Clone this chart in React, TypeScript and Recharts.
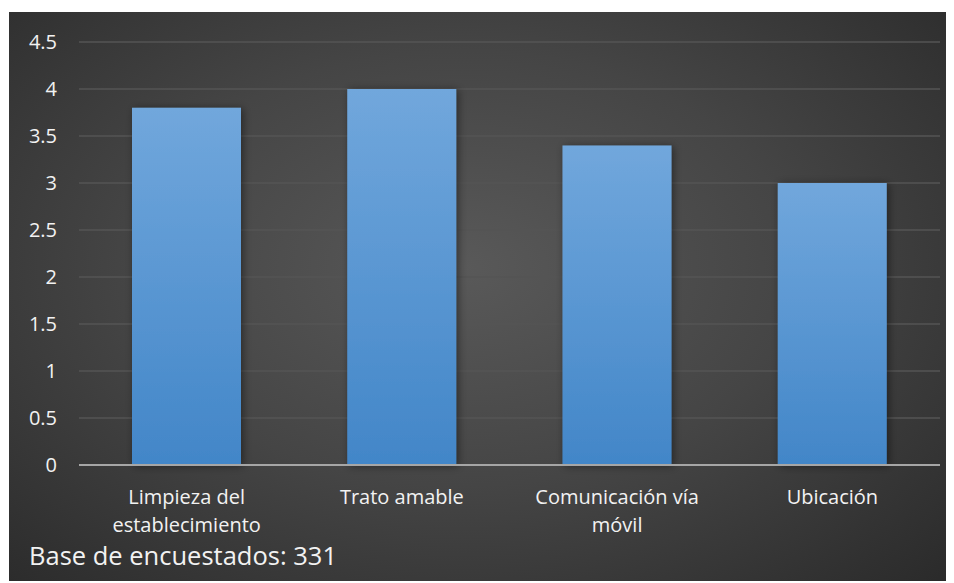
import React from "react";
import { BarChart, Bar, XAxis, YAxis, CartesianGrid } from "recharts";

const categories = [
  "Limpieza del\nestablecimiento",
  "Trato amable",
  "Comunicación vía\nmóvil",
  "Ubicación",
];
const values = [3.8, 4.0, 3.4, 3.0];
const yTicks = [0, 0.5, 1, 1.5, 2, 2.5, 3, 3.5, 4, 4.5];
const footnote = "Base de encuestados: 331";

const data = categories.map((c, i) => ({ name: c, value: values[i] }));

const FONT = "'Open Sans', sans-serif";

const XTick = (props: any) => {
  const { x, y, payload } = props;
  const lines = String(payload.value).split("\n");
  return (
    <g transform={`translate(${x},${y})`}>
      {lines.map((ln: string, i: number) => (
        <text
          key={i}
          x={0}
          y={i * 28}
          dy={31}
          textAnchor="middle"
          fill="#F2F2F2"
          fontSize={20}
          fontFamily={FONT}
        >
          {ln}
        </text>
      ))}
    </g>
  );
};

export default function App() {
  return (
    <div
      style={{
        marginTop: 4,
        marginLeft: 1,
        width: 945,
        height: 569,
        position: "relative",
        background:
          "radial-gradient(ellipse 78% 85% at 48% 45%, #595959 0%, #454545 45%, #262626 100%)",
      }}
    >
      <BarChart
        width={945}
        height={569}
        data={data}
        margin={{ top: 30, right: 14, bottom: 0, left: 0 }}
      >
        <defs>
          <linearGradient id="barGrad" x1="0" y1="0" x2="0" y2="1">
            <stop offset="0%" stopColor="#71A7DC" />
            <stop offset="100%" stopColor="#4286C8" />
          </linearGradient>
          <filter id="shadow" x="-20%" y="-10%" width="140%" height="120%">
            <feDropShadow dx="2" dy="1" stdDeviation="4" floodColor="#000" floodOpacity="0.45" />
          </filter>
        </defs>
        <CartesianGrid
          vertical={false}
          stroke="#555555"
          strokeWidth={1.5}
        />
        <YAxis
          domain={[0, 4.5]}
          ticks={yTicks}
          axisLine={false}
          tickLine={false}
          tickSize={0}
          tickMargin={22}
          width={70}
          tick={{ fill: "#F2F2F2", fontSize: 20, fontFamily: FONT }}
          interval={0}
        />
        <XAxis
          dataKey="name"
          tick={<XTick />}
          tickLine={false}
          axisLine={{ stroke: "#A6A6A6", strokeWidth: 2 }}
          interval={0}
          height={116}
        />
        <Bar
          dataKey="value"
          fill="url(#barGrad)"
          barSize={109}
          isAnimationActive={false}
          filter="url(#shadow)"
        />
      </BarChart>
      <div
        style={{
          position: "absolute",
          left: 20,
          top: 526,
          color: "#F2F2F2",
          fontSize: 25.5,
          fontFamily: FONT,
          lineHeight: "34px",
          whiteSpace: "nowrap",
        }}
      >
        {footnote}
      </div>
    </div>
  );
}
